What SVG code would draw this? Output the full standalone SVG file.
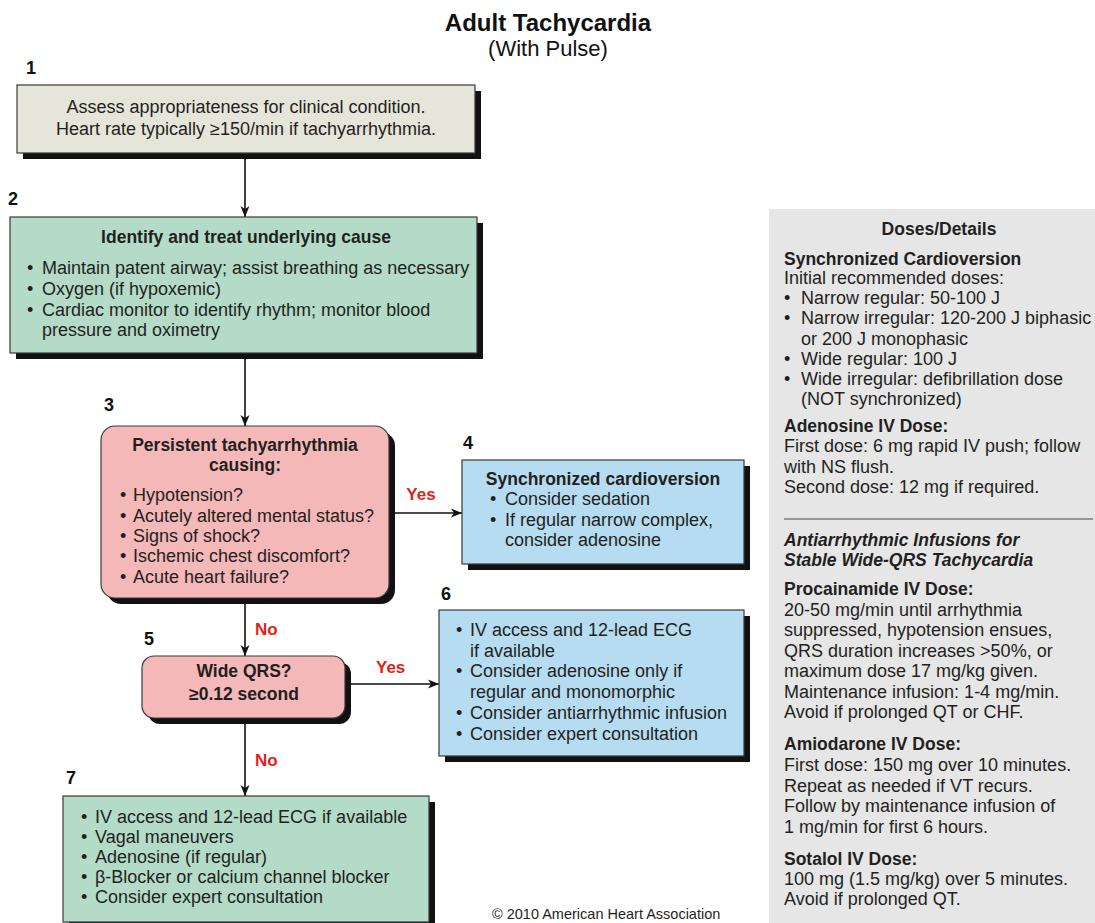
<svg xmlns="http://www.w3.org/2000/svg" width="1095" height="923" viewBox="0 0 1095 923">
<style>
  text { font-family: "Liberation Sans", Arial, Helvetica, sans-serif; fill: #231f20; font-size: 18px; }
  .b { font-weight: bold; font-size: 17.5px; }
  .bi { font-weight: bold; font-style: italic; font-size: 17.5px; }
  .num { font-weight: bold; font-size: 18px; fill: #111; }
  .lbl { font-weight: bold; font-size: 17px; fill: #e0231b; }
  .mid { text-anchor: middle; }
  .box { stroke: #3a3a3a; stroke-width: 1.2; }
  .shadow { fill: #111; }
  .beige { fill: #e6e5da; }
  .green { fill: #b3dbc8; }
  .pink { fill: #f4b8b9; }
  .blue { fill: #b5dcf1; }
  .conn { stroke: #111; stroke-width: 1.6; fill: none; marker-end: url(#arr); }
</style>
<defs>
  <marker id="arr" markerWidth="12" markerHeight="10" refX="11" refY="5" orient="auto" markerUnits="userSpaceOnUse">
    <path d="M0,0.5 L11,5 L0,9.5 L3,5 Z" fill="#111"/>
  </marker>
</defs>
<rect width="1095" height="923" fill="#ffffff"/>

<g id="title">
  <text x="548" y="31" class="mid" style="font-weight:bold;font-size:24px;fill:#111">Adult Tachycardia</text>
  <text x="548" y="56" class="mid" style="font-size:22px;fill:#111">(With Pulse)</text>
</g>

<g id="panel">
  <rect x="769" y="209" width="326" height="714" fill="#e6e6e6"/>
  <text x="939" y="235" class="b mid">Doses/Details</text>
  <text x="784" y="265" class="b">Synchronized Cardioversion</text>
  <text x="784" y="284">Initial recommended doses:</text>
  <text x="784" y="304">•</text><text x="801" y="304">Narrow regular: 50-100 J</text>
  <text x="784" y="324">•</text><text x="801" y="324">Narrow irregular: 120-200 J biphasic</text>
  <text x="801" y="345">or 200 J monophasic</text>
  <text x="784" y="365">•</text><text x="801" y="365">Wide regular: 100 J</text>
  <text x="784" y="385">•</text><text x="801" y="385">Wide irregular: defibrillation dose</text>
  <text x="801" y="405">(NOT synchronized)</text>
  <text x="784" y="432" class="b">Adenosine IV Dose:</text>
  <text x="784" y="452">First dose: 6 mg rapid IV push; follow</text>
  <text x="784" y="473">with NS flush.</text>
  <text x="784" y="493">Second dose: 12 mg if required.</text>
  <line x1="784" y1="519" x2="1093" y2="519" stroke="#444" stroke-width="1.2"/>
  <text x="784" y="546" class="bi">Antiarrhythmic Infusions for</text>
  <text x="784" y="566" class="bi">Stable Wide-QRS Tachycardia</text>
  <text x="784" y="595" class="b">Procainamide IV Dose:</text>
  <text x="784" y="616">20-50 mg/min until arrhythmia</text>
  <text x="784" y="636">suppressed, hypotension ensues,</text>
  <text x="784" y="657">QRS duration increases &gt;50%, or</text>
  <text x="784" y="677">maximum dose 17 mg/kg given.</text>
  <text x="784" y="698">Maintenance infusion: 1-4 mg/min.</text>
  <text x="784" y="718">Avoid if prolonged QT or CHF.</text>
  <text x="784" y="750" class="b">Amiodarone IV Dose:</text>
  <text x="784" y="771">First dose: 150 mg over 10 minutes.</text>
  <text x="784" y="792">Repeat as needed if VT recurs.</text>
  <text x="784" y="812">Follow by maintenance infusion of</text>
  <text x="784" y="833">1 mg/min for first 6 hours.</text>
  <text x="784" y="865" class="b">Sotalol IV Dose:</text>
  <text x="784" y="885">100 mg (1.5 mg/kg) over 5 minutes.</text>
  <text x="784" y="905">Avoid if prolonged QT.</text>
</g>

<g id="connectors">
  <line class="conn" x1="245" y1="159" x2="245" y2="217"/>
  <line class="conn" x1="245" y1="359" x2="245" y2="426"/>
  <line class="conn" x1="389" y1="513" x2="462" y2="513"/>
  <line class="conn" x1="245" y1="604" x2="245" y2="656"/>
  <line class="conn" x1="345" y1="684" x2="439" y2="684"/>
  <line class="conn" x1="245" y1="724" x2="245" y2="796"/>
  <text x="421" y="500" class="lbl mid">Yes</text>
  <text x="255" y="635" class="lbl">No</text>
  <text x="376" y="673" class="lbl">Yes</text>
  <text x="255" y="766" class="lbl">No</text>
</g>

<g id="node1">
  <text x="26" y="74" class="num">1</text>
  <rect x="23" y="91" width="458" height="68" class="shadow"/>
  <rect x="17" y="85" width="458" height="68" class="box beige"/>
  <text x="246" y="113" class="mid">Assess appropriateness for clinical condition.</text>
  <text x="246" y="135" class="mid">Heart rate typically ≥150/min if tachyarrhythmia.</text>
</g>

<g id="node2">
  <text x="8" y="205" class="num">2</text>
  <rect x="16" y="223" width="467" height="136" class="shadow"/>
  <rect x="10" y="217" width="467" height="136" class="box green"/>
  <text x="246" y="243" class="b mid">Identify and treat underlying cause</text>
  <text x="27" y="274">•</text><text x="42" y="274">Maintain patent airway; assist breathing as necessary</text>
  <text x="27" y="295">•</text><text x="42" y="295">Oxygen (if hypoxemic)</text>
  <text x="27" y="316">•</text><text x="42" y="316">Cardiac monitor to identify rhythm; monitor blood</text>
  <text x="42" y="336">pressure and oximetry</text>
</g>

<g id="node3">
  <text x="104" y="411" class="num">3</text>
  <rect x="107" y="432" width="288" height="172" rx="14" class="shadow"/>
  <rect x="101" y="426" width="288" height="172" rx="14" class="box pink"/>
  <text x="245" y="451" class="b mid">Persistent tachyarrhythmia</text>
  <text x="245" y="471" class="b mid">causing:</text>
  <text x="120" y="501">•</text><text x="133" y="501">Hypotension?</text>
  <text x="120" y="522">•</text><text x="133" y="522">Acutely altered mental status?</text>
  <text x="120" y="542">•</text><text x="133" y="542">Signs of shock?</text>
  <text x="120" y="562">•</text><text x="133" y="562">Ischemic chest discomfort?</text>
  <text x="120" y="583">•</text><text x="133" y="583">Acute heart failure?</text>
</g>

<g id="node4">
  <text x="463" y="449" class="num">4</text>
  <rect x="468" y="466" width="282" height="104" class="shadow"/>
  <rect x="462" y="460" width="282" height="104" class="box blue"/>
  <text x="603" y="485" class="b mid">Synchronized cardioversion</text>
  <text x="490" y="505">•</text><text x="505" y="505">Consider sedation</text>
  <text x="490" y="526">•</text><text x="505" y="526">If regular narrow complex,</text>
  <text x="505" y="546">consider adenosine</text>
</g>

<g id="node5">
  <text x="144" y="645" class="num">5</text>
  <rect x="148" y="662" width="203" height="62" rx="12" class="shadow"/>
  <rect x="142" y="656" width="203" height="62" rx="12" class="box pink"/>
  <text x="244" y="677" class="b mid">Wide QRS?</text>
  <text x="244" y="700" class="b mid">≥0.12 second</text>
</g>

<g id="node6">
  <text x="441" y="600" class="num">6</text>
  <rect x="445" y="616" width="305" height="146" class="shadow"/>
  <rect x="439" y="610" width="305" height="146" class="box blue"/>
  <text x="456" y="636">•</text><text x="470" y="636">IV access and 12-lead ECG</text>
  <text x="470" y="657">if available</text>
  <text x="456" y="677">•</text><text x="470" y="677">Consider adenosine only if</text>
  <text x="470" y="698">regular and monomorphic</text>
  <text x="456" y="719">•</text><text x="470" y="719">Consider antiarrhythmic infusion</text>
  <text x="456" y="740">•</text><text x="470" y="740">Consider expert consultation</text>
</g>

<g id="node7">
  <text x="66" y="784" class="num">7</text>
  <rect x="69" y="802" width="366" height="126" class="shadow"/>
  <rect x="63" y="796" width="366" height="126" class="box green"/>
  <text x="81" y="823">•</text><text x="95" y="823">IV access and 12-lead ECG if available</text>
  <text x="81" y="843">•</text><text x="95" y="843">Vagal maneuvers</text>
  <text x="81" y="863">•</text><text x="95" y="863">Adenosine (if regular)</text>
  <text x="81" y="883">•</text><text x="95" y="883">β-Blocker or calcium channel blocker</text>
  <text x="81" y="903">•</text><text x="95" y="903">Consider expert consultation</text>
</g>

<g id="copyright">
  <text x="492" y="919" style="font-size:14.5px">© 2010 American Heart Association</text>
</g>
</svg>
